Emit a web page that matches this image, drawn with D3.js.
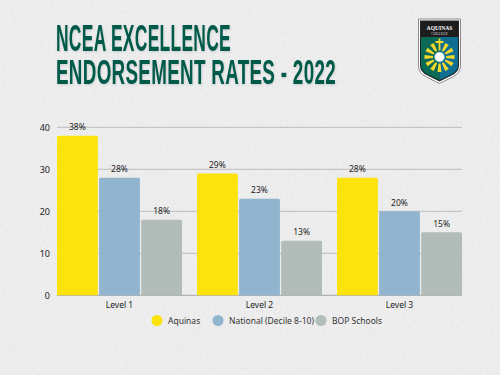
<!DOCTYPE html>
<html><head><meta charset="utf-8">
<script src="https://cdn.jsdelivr.net/npm/d3@7/dist/d3.min.js"></script>
<style>html,body{margin:0;padding:0;background:#ececec;overflow:hidden}svg{display:block}text{font-family:"Noto Sans",sans-serif}</style>
</head><body><svg id="c" width="500" height="375"></svg>
<script>
const categories=["Level 1","Level 2","Level 3"];
const seriesNames=["Aquinas","National (Decile 8-10)","BOP Schools"];
const aquinas=[38,29,28];
const national=[28,23,20];
const bop=[18,13,15];
const yTicks=[0,10,20,30,40];
const titleLines=["NCEA EXCELLENCE","ENDORSEMENT RATES - 2022"];
const colors=["#FBE30B","#91B5CF","#B2BDB9"];
const all=[aquinas,national,bop];
const svg=d3.select("#c");
const defs=svg.append("defs");
const f=defs.append("filter").attr("id","paper").attr("x",0).attr("y",0).attr("width","100%").attr("height","100%");
f.append("feTurbulence").attr("type","fractalNoise").attr("baseFrequency",0.35).attr("numOctaves",3).attr("seed",4);
f.append("feColorMatrix").attr("type","matrix").attr("values","0 0 0 0 0.55 0 0 0 0 0.55 0 0 0 0 0.55 0.22 0 0 0 -0.07");
const sh=defs.append("filter").attr("id","ts").attr("x","-5%").attr("y","-10%").attr("width","110%").attr("height","130%");
sh.append("feDropShadow").attr("dx",0.5).attr("dy",1).attr("stdDeviation",0.9).attr("flood-color","#000").attr("flood-opacity",0.14);
svg.append("rect").attr("width",500).attr("height",375).attr("fill","#eeeeee");
svg.append("rect").attr("width",500).attr("height",375).attr("filter","url(#paper)");

const title=svg.append("g").attr("filter","url(#ts)");
[[50.5,231],[83.5,336]].forEach(([yy,right],i)=>{
 const t=title.append("text").text(titleLines[i])
 .attr("fill","#055A4A").attr("font-size",36).attr("font-weight",700).attr("letter-spacing",0.6)
 .style("font-family",'"Liberation Sans Narrow","Liberation Sans",sans-serif');
 const w=t.node().getComputedTextLength();
 t.attr("transform",`translate(56,${yy}) scale(${(right-56)/w},1)`);
});

const y=d3.scaleLinear().domain([0,40]).range([295.3,127.3]);
const x0=d3.scaleBand().domain(categories).range([50,470]);
const x1=d3.scaleBand().domain(d3.range(3)).range([7,132]).paddingInner(0.03);
const yAxis=d3.axisLeft(y).tickValues(yTicks).tickSize(0).tickPadding(0);
const ag=svg.append("g").attr("transform","translate(50,0)").call(yAxis);
ag.select(".domain").remove();
ag.selectAll("text").attr("font-size",9).attr("fill","#222");
svg.append("g").selectAll("line").data(yTicks).join("line")
 .attr("x1",57).attr("x2",462).attr("y1",d=>y(d)).attr("y2",d=>y(d))
 .attr("stroke",d=>d===0?"#a5a5a5":"#bcbcbc").attr("stroke-width",1);

const g=svg.selectAll(".grp").data(categories).join("g").attr("class","grp").attr("transform",d=>`translate(${x0(d)},0)`);
g.each(function(c,ci){
 const s=d3.select(this);
 all.forEach((vals,si)=>{
  const v=vals[ci],bx=x1(si),bw=x1.bandwidth(),ty=y(v),b=y(0),r=1.5;
  s.append("path").attr("d",`M${bx},${b}V${ty+r}Q${bx},${ty} ${bx+r},${ty}H${bx+bw-r}Q${bx+bw},${ty} ${bx+bw},${ty+r}V${b}Z`).attr("fill",colors[si]);
  s.append("text").text(v+"%").attr("x",bx+bw/2).attr("y",ty-5.3).attr("text-anchor","middle").attr("font-size",8.5).attr("fill","#222");
 });
 s.append("text").text(c).attr("x",x1(1)+x1.bandwidth()/2).attr("y",308).attr("text-anchor","middle").attr("font-size",8.5).attr("fill","#222");
});

const legendCx=[157,218,321];
seriesNames.forEach((n,i)=>{
 svg.append("circle").attr("cx",legendCx[i]).attr("cy",320.5).attr("r",5.5).attr("fill",colors[i]);
 svg.append("text").text(n).attr("x",legendCx[i]+11).attr("y",323.5).attr("font-size",8.5).attr("fill","#333");
});

// crest
const L=svg.append("g");
L.append("path").attr("d","M418.5,19H460.5V66Q460.5,73 452.5,77L439.5,83.5L426.5,77Q418.5,73 418.5,66Z").attr("fill","#fff").attr("stroke","#8a8a8a").attr("stroke-width",1);
L.append("path").attr("d","M420,20.5H459V65.5Q459,72 451.5,75.5L439.5,81.5L427.5,75.5Q420,72 420,65.5Z").attr("fill","#222");
L.append("path").attr("d","M421,37H439.5V80L428,74.5Q421,71 421,65Z").attr("fill","#0A6A55");
L.append("path").attr("d","M439.5,37H458V65Q458,71 451,74.5L439.5,80Z").attr("fill","#0F6F92");
L.append("path").attr("d","M421,21.5H458V37H421Z").attr("fill","#1d1d1d");
L.append("text").text("AQUINAS").attr("x",439.5).attr("y",29.5).attr("text-anchor","middle").attr("font-size",5.6).attr("fill","#fff").attr("font-weight",700).style("font-family",'"Liberation Serif",serif');
L.append("text").text("COLLEGE").attr("x",439.5).attr("y",34.5).attr("text-anchor","middle").attr("font-size",3.6).attr("fill","#ddd").style("font-family",'"Liberation Serif",serif');
L.selectAll(".ray").data(d3.range(1,12).map(i=>i*30)).join("path").attr("class","ray")
 .attr("transform",d=>`translate(439.5,57) rotate(${d})`)
 .attr("d","M-1,-6.5L-2,-15H2L1,-6.5Z").attr("fill","#F5D92E");
L.append("path").attr("d","M438.6,38.5H440.4V41H443.5V43H440.4V50.5H438.6V43H435.5V41H438.6Z").attr("fill","#F5D92E");
L.append("circle").attr("cx",439.5).attr("cy",57).attr("r",5).attr("fill","#fff").attr("stroke","#5fa3c0").attr("stroke-width",0.6);
</script></body></html>
